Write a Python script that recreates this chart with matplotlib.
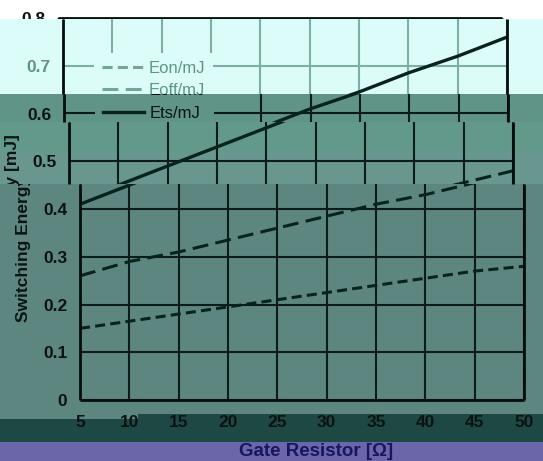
import numpy as np
import matplotlib
matplotlib.use('Agg')
import matplotlib.pyplot as plt
from matplotlib.patches import Rectangle
from matplotlib.ticker import FixedLocator, FuncFormatter
from matplotlib.transforms import Bbox, TransformedBbox

plt.rcParams['font.family'] = ['Liberation Sans', 'DejaVu Sans']
plt.rcParams['font.weight'] = 'bold'

# values
gate_res = [5, 10, 15, 20, 25, 30, 35, 40, 45, 50]
e_on = [0.15, 0.165, 0.18, 0.195, 0.21, 0.225, 0.24, 0.255, 0.27, 0.28]
e_off = [0.26, 0.29, 0.31, 0.335, 0.36, 0.385, 0.41, 0.43, 0.455, 0.48]
e_ts = [0.41, 0.45, 0.49, 0.53, 0.57, 0.61, 0.645, 0.685, 0.72, 0.76]
series_labels = ['Eon/mJ', 'Eoff/mJ', 'Ets/mJ']
x_ticks = [5, 10, 15, 20, 25, 30, 35, 40, 45, 50]
y_ticks = [0, 0.1, 0.2, 0.3, 0.4, 0.5, 0.6, 0.7, 0.8]
x_label = 'Gate Resistor [\u03a9]'
y_label = 'Switching Energy [mJ]'

W, H = 543, 461
PLOT_L, PLOT_W = 80, 444
PLOT_TOP, PLOT_BOT = 18, 400
YMAX = 0.8


def ydata(p):
    # pixel row -> data value
    return (PLOT_BOT - p) * YMAX / (PLOT_BOT - PLOT_TOP)


def fy(p):
    return 1 - p / H


fig = plt.figure(figsize=(W / 100, H / 100), dpi=100)
fig.patch.set_facecolor('white')

# background bands (row0, row1, colour, zorder)
bands = [
    (19.5, 94, '#dcfcfa', 0.5),
    (94, 122, '#5f9486', -5),
    (122, 153, '#63998b', -5),
    (153, 184, '#699790', -5),
    (184, 414, '#5e8681', -5),
    (414, 442, '#1e4843', -1),
    (442, 461, '#6a66a9', -5),
]
for p0, p1, col, z in bands:
    fig.add_artist(Rectangle((0, fy(p1)), 1, (p1 - p0) / H, transform=fig.transFigure,
                             facecolor=col, edgecolor='none', zorder=z))
fig.add_artist(Rectangle((0, fy(419)), 138 / W, 5 / H, transform=fig.transFigure,
                         facecolor='#5e8681', edgecolor='none', zorder=-0.9))

LEG_X = 5 + (94 + 17 - PLOT_L) * 45 / PLOT_W
LEG_Y = ydata(52.5)


def draw_slice(p0, p1, shift, bg, light=False, z=1, legend=False,
               top=False, bottom=False):
    ax = fig.add_axes([(PLOT_L + shift) / W, fy(p1), PLOT_W / W, (p1 - p0) / H], zorder=z)
    ax.set_facecolor('none')
    grid_c = '#7db0a3' if light else '#0c1c19'
    text_c = '#5e9586' if light else '#0a1311'
    line_c = '#08231d'

    ax.plot(gate_res, e_on, color=line_c, lw=2.2, dashes=(3.3, 1.7), label=series_labels[0])
    ax.plot(gate_res, e_off, color=line_c, lw=2.2, dashes=(5.2, 2.4), label=series_labels[1])
    ax.plot(gate_res, e_ts, color=line_c, lw=2.4, label=series_labels[2])

    ax.xaxis.set_major_locator(FixedLocator(x_ticks))
    ax.yaxis.set_major_locator(FixedLocator(y_ticks))
    ax.yaxis.set_major_formatter(FuncFormatter(lambda v, _: '0' if v == 0 else '%.1f' % v))
    ax.set_xlim(5, 50)
    ax.set_ylim(ydata(p1), ydata(p0))
    ax.grid(True, color=grid_c, lw=1.5)
    ax.set_axisbelow(True)
    ax.tick_params(axis='y', length=0, pad=9, labelsize=12.5, labelcolor=text_c)
    ax.tick_params(axis='x', length=0, pad=11, labelsize=12.5, labelcolor='#0a1311',
                   labelbottom=bottom)

    for side, sp in ax.spines.items():
        sp.set_color('#050d0b')
        sp.set_linewidth(2.0)
        sp.set_capstyle('butt')
    ax.spines['top'].set_visible(top)
    ax.spines['bottom'].set_visible(bottom)

    if legend:
        leg = ax.legend(loc='upper left', bbox_to_anchor=(LEG_X, LEG_Y),
                        bbox_transform=ax.transData, borderaxespad=0, borderpad=0.5,
                        handlelength=2.45, handletextpad=0.3, labelspacing=0.45,
                        prop={'size': 12, 'weight': 'normal'}, facecolor=bg,
                        edgecolor='none', framealpha=1, fancybox=False)
        for h in leg.legend_handles:
            h.set_color('#74a597' if light else line_c)
        for t in leg.get_texts():
            t.set_color(text_c)
        for art in [leg.legendPatch, *leg.get_texts(), *leg.legend_handles]:
            art.set_clip_box(ax.bbox)
            art.set_clip_on(True)
    return ax


draw_slice(18, 19.5, -22, 'white', z=0.2, top=True)
draw_slice(19.5, 94, -17, '#dcfcfa', light=True, legend=True)
draw_slice(94, 122, -16, '#5f9486', legend=True)
draw_slice(122, 184, -11, '#63998b')
draw_slice(184, 400, 0, '#5e8681', bottom=True)

# y label, split over the two shifted bands
for p0, p1, shift in [(122, 184, -11), (184, 414, 0)]:
    t = fig.text((24 + shift) / W, fy(228), y_label, rotation=90, ha='center', va='center',
                 fontsize=12.5, color='#0a1512', zorder=2)
    t.set_clip_box(TransformedBbox(Bbox.from_extents(0, fy(p1), 1, fy(p0)), fig.transFigure))
    t.set_clip_on(True)

fig.text(316 / W, fy(456), x_label, ha='center', va='baseline', fontsize=13.5,
         color='#16175e', zorder=-3)

fig.savefig('out.png', dpi=100)
